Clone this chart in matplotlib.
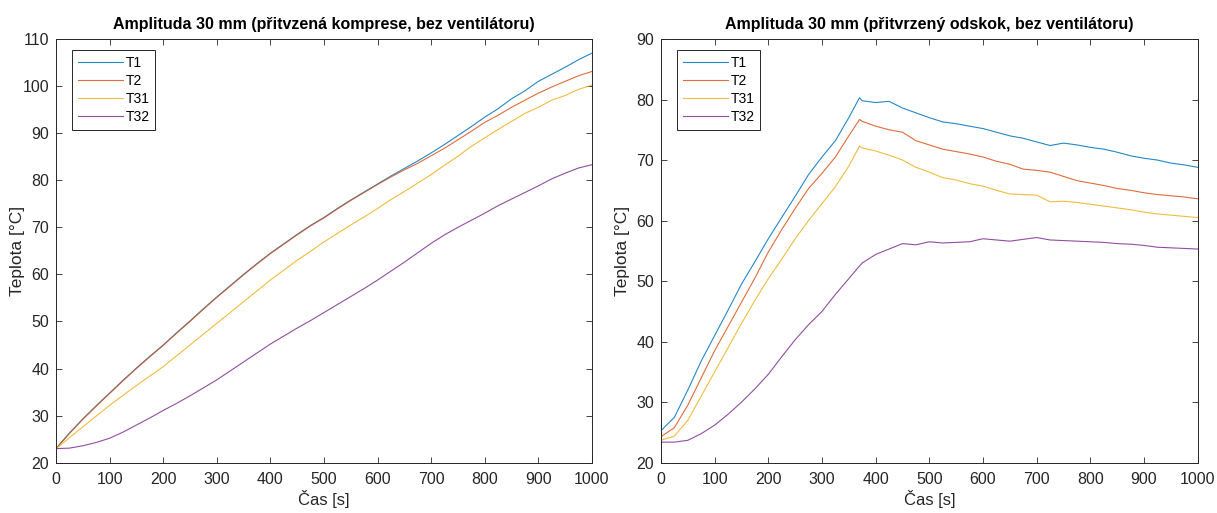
import matplotlib
matplotlib.use("Agg")
import matplotlib.pyplot as plt

plt.rcParams['font.family'] = ['Liberation Sans', 'DejaVu Sans']

# ---------------- data: left panel (přitvzená komprese) ----------------
t_left = [0, 25, 50, 75, 100, 125, 150, 175, 200, 225, 250, 275, 300, 325, 350, 375, 400,
          425, 450, 475, 500, 525, 550, 575, 600, 625, 650, 675, 700, 725, 750, 775, 800,
          825, 850, 875, 900, 925, 950, 975, 1000]
L_T1 = [23.0, 26.3, 29.3, 32.1, 34.8, 37.5, 40.1, 42.6, 45.0, 47.6, 50.1, 52.7, 55.2, 57.6, 60.0, 62.3, 64.5,
        66.5, 68.5, 70.4, 72.1, 74.0, 75.8, 77.5, 79.2, 80.9, 82.5, 84.1, 85.8, 87.6, 89.5, 91.4, 93.4,
        95.2, 97.3, 99.0, 101.0, 102.5, 104.0, 105.6, 107.0]
L_T2 = [23.0, 26.2, 29.2, 32.0, 34.7, 37.4, 40.0, 42.5, 44.9, 47.5, 50.0, 52.6, 55.1, 57.5, 59.9, 62.2, 64.4,
        66.4, 68.4, 70.3, 72.0, 73.9, 75.7, 77.4, 79.1, 80.7, 82.2, 83.6, 85.2, 86.8, 88.6, 90.4, 92.3,
        93.8, 95.5, 97.0, 98.5, 99.8, 101.0, 102.2, 103.1]
L_T31 = [23.0, 25.3, 27.6, 29.9, 32.2, 34.3, 36.4, 38.4, 40.4, 42.7, 45.0, 47.3, 49.6, 51.9, 54.2, 56.5, 58.8,
         60.9, 63.0, 64.9, 66.9, 68.7, 70.5, 72.2, 74.0, 75.9, 77.6, 79.4, 81.2, 83.2, 85.1, 87.2, 89.0,
         90.8, 92.5, 94.2, 95.5, 97.0, 98.0, 99.3, 100.2]
L_T32 = [23.0, 23.1, 23.6, 24.3, 25.2, 26.5, 28.0, 29.5, 31.1, 32.6, 34.2, 35.9, 37.6, 39.5, 41.4, 43.3, 45.2,
         46.9, 48.6, 50.2, 51.9, 53.6, 55.3, 57.0, 58.8, 60.7, 62.6, 64.6, 66.6, 68.4, 70.0, 71.5, 73.0,
         74.6, 76.0, 77.4, 78.8, 80.3, 81.5, 82.6, 83.3]

# ---------------- data: right panel (přitvrzený odskok) ----------------
t_right = [0, 25, 50, 75, 100, 125, 150, 175, 200, 225, 250, 275, 300, 325, 350, 370, 375, 400,
           425, 450, 475, 500, 525, 550, 575, 600, 625, 650, 675, 700, 725, 750, 775, 800,
           825, 850, 875, 900, 925, 950, 975, 1000]
R_T1 = [25.3, 27.5, 32.0, 36.8, 41.0, 45.2, 49.5, 53.2, 57.0, 60.5, 64.0, 67.6, 70.5, 73.2, 77.0, 80.3, 79.8, 79.5,
        79.7, 78.6, 77.8, 77.0, 76.3, 76.0, 75.6, 75.2, 74.6, 74.0, 73.6, 73.0, 72.4, 72.8, 72.5, 72.1,
        71.8, 71.3, 70.7, 70.3, 70.0, 69.5, 69.2, 68.8]
R_T2 = [24.3, 25.8, 29.5, 34.0, 38.5, 42.5, 46.5, 50.5, 54.8, 58.5, 62.0, 65.3, 67.8, 70.5, 74.0, 76.7, 76.4, 75.6,
        75.0, 74.6, 73.2, 72.5, 71.8, 71.4, 71.0, 70.5, 69.8, 69.3, 68.5, 68.3, 68.0, 67.3, 66.6, 66.2,
        65.8, 65.3, 65.0, 64.6, 64.3, 64.1, 63.9, 63.6]
R_T31 = [23.7, 24.4, 27.0, 31.0, 35.0, 39.0, 43.0, 46.8, 50.4, 53.6, 57.0, 60.0, 62.8, 65.6, 69.0, 72.3, 72.0, 71.5,
         70.8, 70.0, 68.8, 68.0, 67.1, 66.7, 66.1, 65.7, 65.0, 64.4, 64.3, 64.2, 63.1, 63.2, 63.0, 62.7,
         62.4, 62.1, 61.8, 61.4, 61.1, 60.9, 60.7, 60.5]
R_T32 = [23.4, 23.4, 23.7, 24.8, 26.2, 28.0, 30.0, 32.2, 34.6, 37.5, 40.3, 42.8, 45.0, 47.8, 50.4, 52.5, 53.0, 54.4,
         55.3, 56.2, 56.0, 56.5, 56.3, 56.4, 56.5, 57.0, 56.8, 56.6, 56.9, 57.2, 56.8, 56.7, 56.6, 56.5,
         56.4, 56.2, 56.1, 55.9, 55.6, 55.5, 55.4, 55.3]

labels = ['T1', 'T2', 'T31', 'T32']
colors = ['#0072BD', '#D95319', '#EDB120', '#7E2F8E']

xticks = [0, 100, 200, 300, 400, 500, 600, 700, 800, 900, 1000]

fig = plt.figure(figsize=(12.17, 5.13), dpi=100)
ax1 = fig.add_axes([0.046, 0.098, 0.4404, 0.826])
ax2 = fig.add_axes([0.5431, 0.098, 0.4410, 0.826])

panels = [
    (ax1, t_left, [L_T1, L_T2, L_T31, L_T32], (20, 110), list(range(20, 111, 10)),
     'Amplituda 30 mm (přitvzená komprese, bez ventilátoru)'),
    (ax2, t_right, [R_T1, R_T2, R_T31, R_T32], (20, 90), list(range(20, 91, 10)),
     'Amplituda 30 mm (přitvrzený odskok, bez ventilátoru)'),
]

axcol = '#262626'
for ax, t, series, ylim, yticks, title in panels:
    for s, lab, c in zip(series, labels, colors):
        ax.plot(t, s, color=c, lw=0.8, label=lab, alpha=0.85)
    ax.set_xlim(0, 1000)
    ax.set_ylim(*ylim)
    ax.set_xticks(xticks)
    ax.set_yticks(yticks)
    ax.tick_params(axis='both', direction='in', top=True, right=True, length=4, width=0.6,
                   labelsize=11.5, colors=axcol, labelcolor='#262626')
    ax.tick_params(axis='x', pad=7)
    ax.tick_params(axis='y', pad=5)
    for sp in ax.spines.values():
        sp.set_color(axcol)
        sp.set_linewidth(0.7)
    ax.set_xlabel('Čas [s]', fontsize=12, color='#262626', labelpad=2)
    ax.set_ylabel('Teplota [°C]', fontsize=12.5, color='#262626')
    ax.yaxis.set_label_coords(-0.058, 0.5)
    ax.set_title(title, fontsize=11.5, fontweight='bold', color='black', pad=7)
    leg = ax.legend(loc='upper left', bbox_to_anchor=(0.03, 0.974), borderaxespad=0,
                    fontsize=10, handlelength=3.3, handletextpad=0.15,
                    borderpad=0.4, labelspacing=0.3, fancybox=False, framealpha=1,
                    edgecolor=axcol)
    leg.get_frame().set_linewidth(0.7)

fig.savefig('out.png', dpi=100)
